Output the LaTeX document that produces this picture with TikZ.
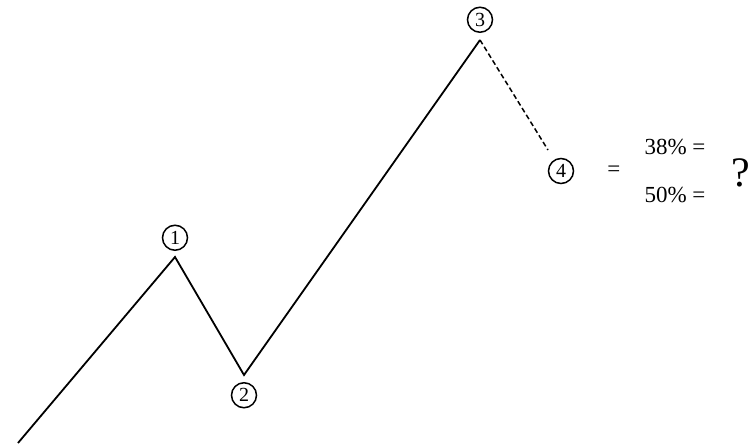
\documentclass[tikz,border=0pt]{standalone}
\usepackage{fontspec}
\setmainfont{Liberation Serif}
\usetikzlibrary{positioning}

\begin{document}
\begin{tikzpicture}[x=1pt,y=-1pt,node distance=6pt,
  wave/.style={line width=1.8pt,line join=miter},
  wavenum/.style={draw,circle,line width=1.5pt,inner sep=1pt,minimum size=25pt,font=\fontsize{20}{20}\selectfont},
  ratio/.style={font=\fontsize{23}{23}\selectfont,inner sep=0pt}]
\useasboundingbox (0,0) rectangle (749,446);
% turning points of the waves
\coordinate (p0) at (18,443);
\coordinate (p1) at (175,257);
\coordinate (p2) at (244,375);
\coordinate (p3) at (480,40);
\coordinate (p4) at (548,150);
\draw[wave] (p0) -- (p1) -- (p2) -- (p3);
\draw[wave,line width=1.5pt,dash pattern=on 5pt off 3pt] (p3) -- (p4);
% wave labels
\node[wavenum,above=6pt of p1] (n1) {1};
\node[wavenum,below=7pt of p2] (n2) {2};
\node[wavenum,above=7pt of p3] (n3) {3};
\node[wavenum] (n4) at (561,171) {4};
% retracement
\node[ratio,right=33pt of n4] (eq) {=};
\node[ratio] (r38) at (675,147) {38\% =};
\node[ratio] (r50) at (675,195) {50\% =};
\node[font=\fontsize{42}{42}\selectfont,inner sep=0pt] (q) at (741,173) {?};
\end{tikzpicture}
\end{document}
